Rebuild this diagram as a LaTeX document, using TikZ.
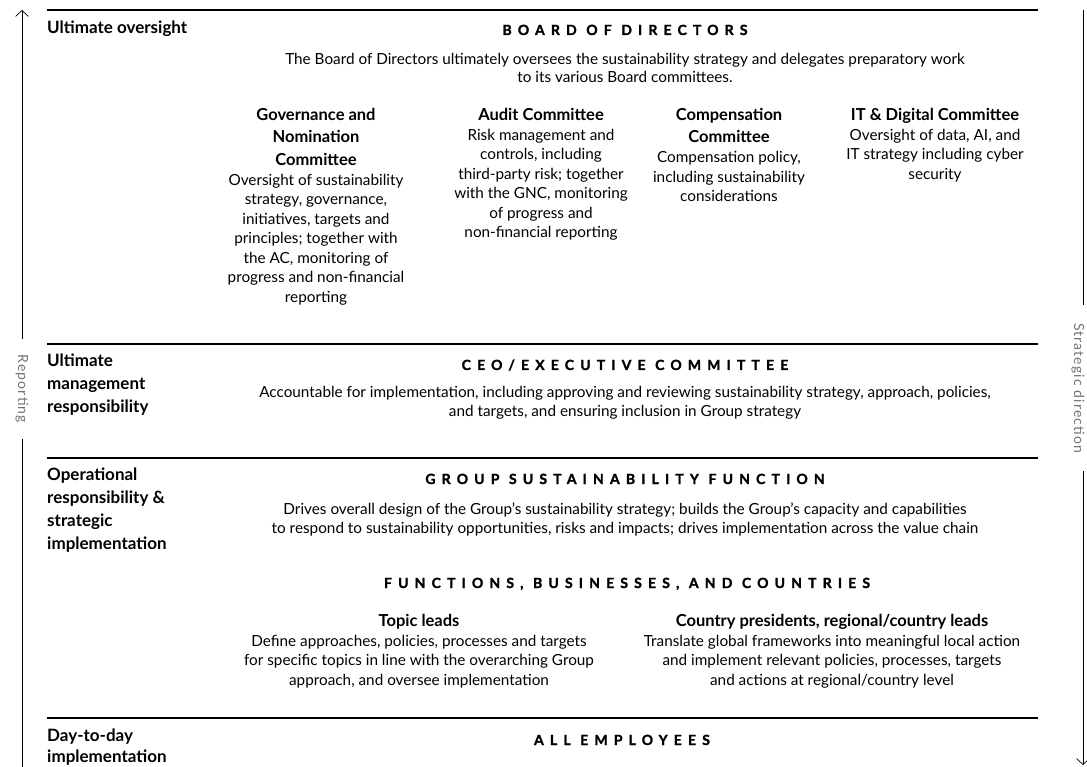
\documentclass[tikz,border=0pt]{standalone}
\usepackage{fontspec}
\setmainfont{Lato}
\newfontfamily\capsfont{Lato}[LetterSpace=44, BoldFeatures={FakeBold=1.6}]
\newfontfamily\sidefont{Lato}[LetterSpace=8]
\usetikzlibrary{positioning,arrows.meta}

\begin{document}
\begin{tikzpicture}[
		x=1pt, y=-1pt,
		>={Straight Barb[length=6pt,width=13pt]},
		rule/.style={line width=1.4pt},
		axis/.style={line width=0.7pt},
		level_label/.style={anchor=north west, align=left, inner sep=0pt, font=\bfseries\fontsize{17}{23}\selectfont},
		heading/.style={anchor=base, inner sep=0pt, font=\capsfont\bfseries\fontsize{14}{16}\selectfont},
		desc/.style={anchor=north, align=center, inner sep=0pt, font=\fontsize{15.3}{19}\selectfont},
		title/.style={anchor=north, align=center, inner sep=0pt, font=\bfseries\fontsize{16.5}{22.5}\selectfont},
		body/.style={anchor=north, align=center, inner sep=0pt, font=\fontsize{15.3}{19.5}\selectfont},
		side_label/.style={rotate=-90, inner ysep=0pt, text=black!55, font=\sidefont\fontsize{14}{16}\selectfont}
		]
		\useasboundingbox (0,0) rectangle (1087,767);
		
		% --- SIDE AXES (Reporting up, Strategic direction down) ---
		\coordinate (rep_top) at (22,10);
		\coordinate (rep_bot) at (22,767);
		\node[side_label, inner xsep=16pt] (reporting) at (22,389) {Reporting};
		\draw[axis, ->] (reporting.west) -- (rep_top);
		\draw[axis] (reporting.east) -- (rep_bot);
		
		\coordinate (dir_top) at (1083,10);
		\coordinate (dir_bot) at (1083,765);
		\node[side_label, inner xsep=18pt] (direction) at (1078,388) {Strategic direction};
		\draw[axis] (dir_top) -- (dir_top |- direction.west);
		\draw[axis, ->] (dir_top |- direction.east) -- (dir_bot);
		
		% --- LEVEL RULES ---
		\foreach \y/\name in {10/top, 344/ceo, 458/gsf, 718/all}{
			\coordinate (\name_l) at (47,\y);
			\coordinate (\name_r) at (1038,\y);
			\draw[rule] (\name_l) -- (\name_r);
		}
		
		% --- LEVEL LABELS ---
		\node[level_label] (lvl_board) at (47,21) {Ultimate oversight};
		\node[level_label] (lvl_ceo) at (47,354) {Ultimate\\management\\responsibility};
		\node[level_label] (lvl_gsf) at (47,468) {Operational\\responsibility \&\\strategic\\implementation};
		\node[level_label, font=\bfseries\fontsize{17}{20.5}\selectfont] (lvl_all) at (47,729) {Day-to-day\\implementation};
		
		% --- BOARD OF DIRECTORS ---
		\node[heading] (board) at (625,35) {BOARD OF DIRECTORS};
		\node[desc, font=\fontsize{15.3}{18}\selectfont, below=18.5pt of board.base] (board_desc) {The Board of Directors ultimately oversees the sustainability strategy and delegates preparatory work\\to its various Board committees.};
		
		% Board committees
		\node[title] (gnc) at (316,108) {Governance and\\Nomination\\Committee};
		\node[body, below=8.5pt of gnc.base] (gnc_desc) {Oversight of sustainability\\strategy, governance,\\initiatives, targets and\\principles; together with\\the AC, monitoring of\\progress and non-financial\\reporting};
		
		\node[title] (ac) at (541,108) {Audit Committee};
		\node[body, below=8.5pt of ac.base] (ac_desc) {Risk management and\\controls, including\\third-party risk; together\\with the GNC, monitoring\\of progress and\\non-financial reporting};
		
		\node[title] (cc) at (729,108) {Compensation\\Committee};
		\node[body, below=8.5pt of cc.base] (cc_desc) {Compensation policy,\\including sustainability\\considerations};
		
		\node[title] (itc) at (935,108) {IT \& Digital Committee};
		\node[body, below=8.5pt of itc.base] (itc_desc) {Oversight of data, AI, and\\IT strategy including cyber\\security};
		
		% --- CEO / EXECUTIVE COMMITTEE ---
		\node[heading] (ceo) at (625,370) {CEO/EXECUTIVE COMMITTEE};
		\node[desc, below=16pt of ceo.base] (ceo_desc) {Accountable for implementation, including approving and reviewing sustainability strategy, approach, policies,\\and targets, and ensuring inclusion in Group strategy};
		
		% --- GROUP SUSTAINABILITY FUNCTION ---
		\node[heading] (gsf) at (625,484) {GROUP SUSTAINABILITY FUNCTION};
		\node[desc, below=19pt of gsf.base] (gsf_desc) {Drives overall design of the Group’s sustainability strategy; builds the Group’s capacity and capabilities\\to respond to sustainability opportunities, risks and impacts; drives implementation across the value chain};
		
		\node[heading] (fbc) at (627,588) {FUNCTIONS, BUSINESSES, AND COUNTRIES};
		
		\node[title] (topic) at (419,614) {Topic leads};
		\node[body, below=8.5pt of topic.base] (topic_desc) {Define approaches, policies, processes and targets\\for specific topics in line with the overarching Group\\approach, and oversee implementation};
		
		\node[title] (country) at (832,614) {Country presidents, regional/country leads};
		\node[body, below=8.5pt of country.base] (country_desc) {Translate global frameworks into meaningful local action\\and implement relevant policies, processes, targets\\and actions at regional/country level};
		
		% --- ALL EMPLOYEES ---
		\node[heading] (all) at (622,745) {ALL EMPLOYEES};
		
	\end{tikzpicture}
\end{document}
